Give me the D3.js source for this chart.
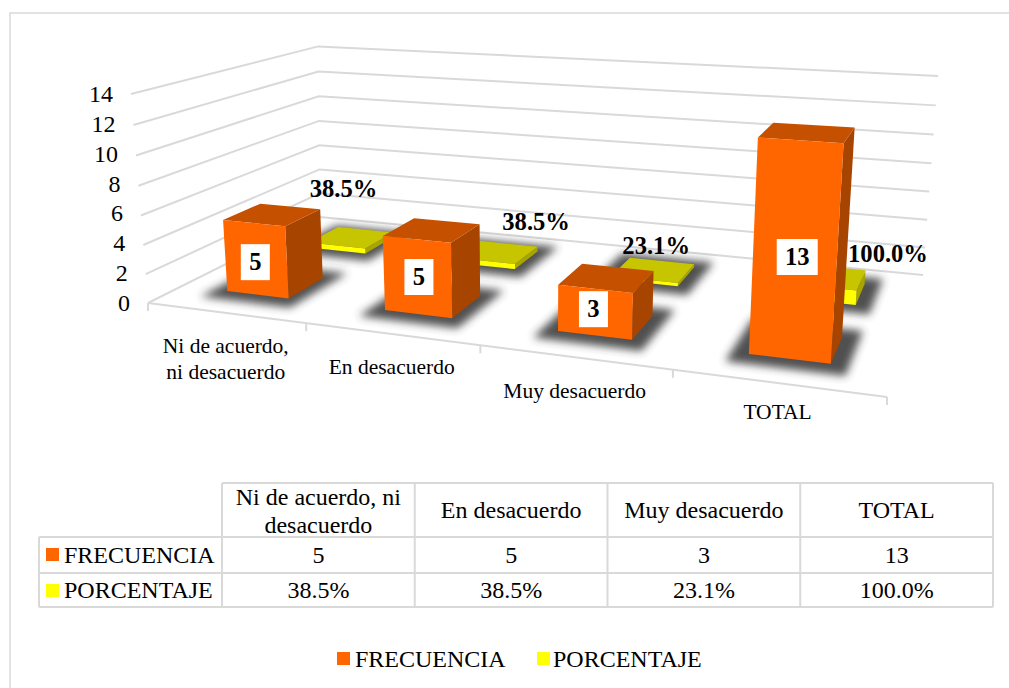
<!DOCTYPE html>
<html><head><meta charset="utf-8">
<script src="https://cdnjs.cloudflare.com/ajax/libs/d3/7.8.5/d3.min.js"></script>
<style>html,body{margin:0;background:#fff}svg{display:block}text{font-family:"Liberation Serif",serif;fill:#000}</style>
</head><body><svg id="c" width="1009" height="688"></svg>
<script>
const categories = ["Ni de acuerdo, ni desacuerdo","En desacuerdo","Muy desacuerdo","TOTAL"];
const axisLabelLines = [["Ni de acuerdo,","ni desacuerdo"],["En desacuerdo"],["Muy desacuerdo"],["TOTAL"]];
const tableHeaderLines = [["Ni de acuerdo, ni","desacuerdo"],["En desacuerdo"],["Muy desacuerdo"],["TOTAL"]];
const seriesNames = ["FRECUENCIA","PORCENTAJE"];
const frecuencia = [5,5,3,13];
const porcentaje = [0.385,0.385,0.231,1.0];
const porcentajeText = ["38.5%","38.5%","23.1%","100.0%"];
const yTicks = [0,2,4,6,8,10,12,14];

// manual label nudges (px), as placed in the original
const pctNudge = [[-8,-40],[40,-22],[3,-16],[63,-15]];
const freqNudge = [[-0.5,3],[1.5,0],[-1.5,-3],[2.5,5]];
const catDrop = [40,40,41,36];

const svg = d3.select("#c");
const GRID="#D9D9D9";
const defs = svg.append("defs");
defs.append("filter").attr("id","blur").attr("x","-40%").attr("y","-60%").attr("width","180%").attr("height","220%")
  .append("feGaussianBlur").attr("stdDeviation",4.5);

// frame
svg.append("rect").attr("x",10).attr("y",13).attr("width",1100).attr("height",800).attr("fill","none").attr("stroke",GRID).attr("stroke-width",1.5);

// projection: floor homography plus a vertical column (true 3D projective map)
function projector(q,topFL,topBR){
  const [[x0,y0],[x1,y1],[x2,y2],[x3,y3]]=q;
  const dx1=x1-x2,dx2=x3-x2,sx=x0-x1+x2-x3,dy1=y1-y2,dy2=y3-y2,sy=y0-y1+y2-y3;
  const den=dx1*dy2-dx2*dy1;
  const g=(sx*dy2-dx2*sy)/den,h=(dx1*sy-sx*dy1)/den;
  const a=x1-x0+g*x1,b=x3-x0+h*x3,c=x0,d=y1-y0+g*y1,e=y3-y0+h*y3,f=y0;
  const kBR=g+h+1;
  const r=(a+b+c-c+topFL[0]-topBR[0]*kBR)/(topBR[0]-topFL[0]);
  const p=topFL[0]*(1+r)-c, s=topFL[1]*(1+r)-f;
  return (u,w,t)=>{const k=g*u+h*w+1+t*r;return [(a*u+b*w+c+t*p)/k+6*t*w*(1-u),(d*u+e*w+f+t*s)/k];};
}
const project = projector([[148,303],[887,397],[923,275],[320,217]],[131,94],[938,77]);
const yScale = d3.scaleLinear().domain([0,14]).range([0,1]);
const uBand = d3.scaleBand().domain(categories).range([0,1]).paddingInner(0.6).paddingOuter(0.3);
const wBand = d3.scaleBand().domain(seriesNames).range([0.05,0.97]).paddingInner(0.583).paddingOuter(0.25);
function P(u,w,v){return project(u,w,yScale(v));}
const line = d3.line();

// grid
const grid = svg.append("g").attr("fill","none").attr("stroke",GRID).attr("stroke-width",2);
yTicks.forEach(v=>{grid.append("path").attr("d",line([P(0,0,v),P(0,1,v),P(1,1,v)]));});
grid.append("path").attr("d",line([P(0,0,0),P(1,0,0)]));
const step=uBand.step();
d3.range(0,5).forEach(i=>{const p=P(i*step,0,0);grid.append("path").attr("d",line([p,[p[0],p[1]+8]]));});

// y labels
const yLabelY = d3.scaleLinear().domain([0,14]).range([P(0,0,0)[1],P(0,0,14)[1]]);
svg.append("g").selectAll("text").data(yTicks).join("text")
 .attr("x",d=>P(0,0,d)[0]-18).attr("y",d=>yLabelY(d)+8).attr("text-anchor","end").attr("font-size",24).text(d=>d);

// category labels
const catG=svg.append("g");
axisLabelLines.forEach((ls,i)=>{
  const p=P(uBand(categories[i])+uBand.bandwidth()/2,0,0);
  ls.forEach((t,j)=>catG.append("text").attr("x",p[0]+0.5).attr("y",p[1]+catDrop[i]+j*26).attr("text-anchor","middle").attr("font-size",21.5).text(t));
});

function bar(g,cat,ser,v,col){
  const u0=uBand(cat),u1=u0+uBand.bandwidth(),w0=wBand(ser),w1=w0+wBand.bandwidth();
  const e=0.022,ew=0.07;
  g.append("path").attr("d",line([P(u0-e,w0-ew,0),P(u1+e,w0-ew,0),P(u1+e,w1+ew,0),P(u0-e,w1+ew,0)])+"Z")
    .attr("fill","#333").attr("opacity",0.85).attr("filter","url(#blur)");
  g.append("path").attr("d",line([P(u1,w0,0),P(u1,w1,0),P(u1,w1,v),P(u1,w0,v)])+"Z").attr("fill",col[2]);
  g.append("path").attr("d",line([P(u0,w0,v),P(u1,w0,v),P(u1,w1,v),P(u0,w1,v)])+"Z").attr("fill",col[1]);
  g.append("path").attr("d",line([P(u0,w0,0),P(u1,w0,0),P(u1,w0,v),P(u0,w0,v)])+"Z").attr("fill",col[0]);
}
const ORANGE=["#FF6600","#C55000","#A64400"], YELLOW=["#FFFF00","#C7C400","#A8A500"];
const bars=svg.append("g");
categories.forEach((c,i)=>bar(bars,c,seriesNames[1],porcentaje[i],YELLOW));
categories.forEach((c,i)=>bar(bars,c,seriesNames[0],frecuencia[i],ORANGE));

// data labels
const lab=svg.append("g");
categories.forEach((c,i)=>{
  const p0=P(uBand(c)+uBand.bandwidth()/2,wBand(seriesNames[0]),frecuencia[i]/2);
  const p=[p0[0]+freqNudge[i][0],p0[1]+freqNudge[i][1]];
  const txt=String(frecuencia[i]), w=txt.length>1?41:29;
  lab.append("rect").attr("x",p[0]-w/2).attr("y",p[1]-18).attr("width",w).attr("height",36).attr("fill","#fff");
  lab.append("text").attr("x",p[0]).attr("y",p[1]+8).attr("text-anchor","middle").attr("font-size",24.6).attr("font-weight","bold").text(txt);
  const q=P(uBand(c)+uBand.bandwidth()/2,wBand(seriesNames[1])+wBand.bandwidth()/2,porcentaje[i]);
  lab.append("text").attr("x",q[0]+pctNudge[i][0]).attr("y",q[1]+pctNudge[i][1]).attr("text-anchor","middle").attr("font-size",24.6).attr("font-weight","bold").text(porcentajeText[i]);
});

// data table
const colX=d3.scaleBand().domain(categories).range([222,993]);
const rowY=[483,537,573,607], leftX=39;
const tb=svg.append("g");
const tl=tb.append("g").attr("stroke",GRID).attr("stroke-width",2).attr("fill","none");
tl.append("path").attr("d",line([[222,rowY[0]],[993,rowY[0]]]));
rowY.slice(1).forEach(y=>tl.append("path").attr("d",line([[leftX,y],[993,y]])));
tl.append("path").attr("d",line([[leftX,rowY[1]],[leftX,rowY[3]]]));
categories.forEach(c=>tl.append("path").attr("d",line([[colX(c),rowY[0]],[colX(c),rowY[3]]])));
tl.append("path").attr("d",line([[993,rowY[0]],[993,rowY[3]]]));
const FS=24;
function tcell(x,y,t,anchor){tb.append("text").attr("x",x).attr("y",y).attr("text-anchor",anchor||"middle").attr("font-size",FS).text(t);}
categories.forEach((c,i)=>{
  const cx=colX(c)+colX.bandwidth()/2, ls=tableHeaderLines[i];
  if(ls.length>1){tcell(cx,505,ls[0]);tcell(cx,533,ls[1]);} else tcell(cx,518,ls[0]);
  tcell(cx,563,frecuencia[i]);
  tcell(cx,598,porcentajeText[i]);
});
[[563,ORANGE[0],seriesNames[0],548],[598,YELLOW[0],seriesNames[1],584]].forEach(r=>{
  tb.append("rect").attr("x",46).attr("y",r[3]).attr("width",13).attr("height",13).attr("fill",r[1]);
  tcell(64,r[0],r[2],"start");
});

// legend
const lg=svg.append("g");
[[337,355,ORANGE[0],seriesNames[0]],[537,553,YELLOW[0],seriesNames[1]]].forEach(r=>{
  lg.append("rect").attr("x",r[0]).attr("y",652).attr("width",13).attr("height",13).attr("fill",r[2]);
  lg.append("text").attr("x",r[1]).attr("y",667).attr("font-size",FS).text(r[3]);
});
</script></body></html>
